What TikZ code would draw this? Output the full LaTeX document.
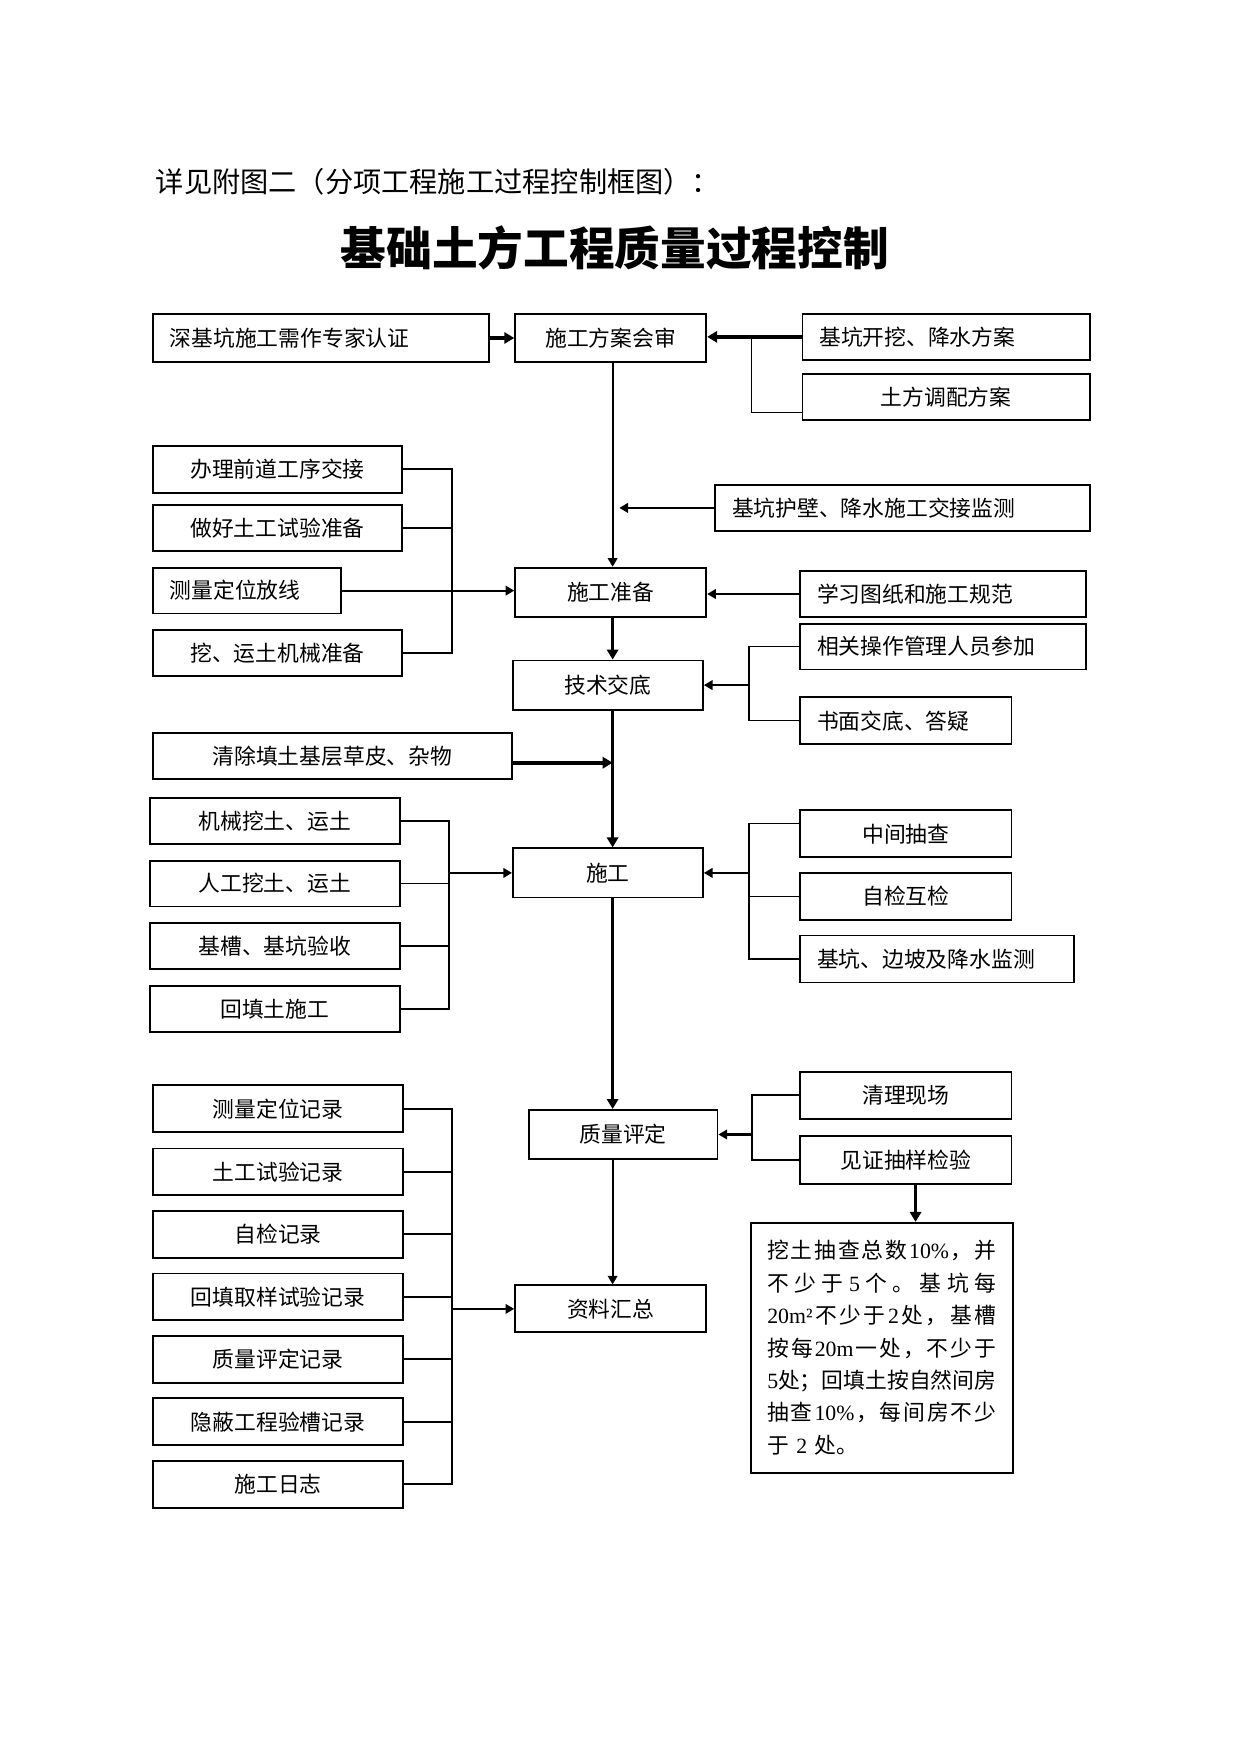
\documentclass[tikz,border=0pt]{standalone}
\usepackage{fontspec}
\setmainfont{Noto Sans CJK SC}
\newfontfamily\latinfont{Liberation Serif}
\usetikzlibrary{arrows.meta}

\newcommand{\boxfont}{\fontsize{10.5pt}{12.6pt}\selectfont}
\newcommand{\latnum}[1]{{\latinfont #1}}
\newcommand{\noteline}[1]{\makebox[\hsize][s]{\spaceskip=0pt plus 1fil\relax #1}}

\begin{document}
\begin{tikzpicture}
[x=0.018929cm, y=-0.018929cm,
  boxDecorate/.style={draw, line width=0.9pt, inner sep=0pt, anchor=north west, font=\boxfont},
  leftDecorate/.style={boxDecorate, align=left, inner xsep=8.08pt},
  lineDecorate/.style={-, line width=0.9pt},
  thinDecorate/.style={-, line width=0.6pt},
  arrowDecorate/.style={-{Triangle[length=4.2pt,width=4.6pt]}, line width=1pt},
  thickDecorate/.style={-{Triangle[length=4.8pt,width=5.4pt]}, line width=1.8pt}]
%% page frame
\useasboundingbox (0,0) rectangle (1110.1,1569);
%% headings
\node (caption) [anchor=west, inner sep=0pt, font=\fontsize{13.6pt}{16pt}\selectfont]
  at (139,163) {详见附图二（分项工程施工过程控制框图）：};
\node (title) [inner sep=0pt, font=\fontsize{22pt}{26pt}\selectfont\bfseries]
  at (550,222) {基础土方工程质量过程控制};
%% boxes, text centred
\foreach \nodename/\xa/\ya/\xb/\yb/\txt in {
  M1/460/280/631/323/施工方案会审, M2/460/507/631/551/施工准备,
  M3/458/590/628/634/技术交底, M4/458/758/628/802/施工,
  M5/472/992/641/1036/质量评定, M6/460/1149/631/1191/资料汇总,
  R2/717/334/974/375/土方调配方案,
  L1/136/398/359/440/办理前道工序交接, L2/136/451/359/492/做好土工试验准备,
  L4/136/563/359/604/挖、运土机械准备, L5/136/655/457/696/清除填土基层草皮、杂物,
  L6/133/713/357/754/机械挖土、运土, L7/133/769/357/810/人工挖土、运土,
  L8/133/825/357/866/基槽、基坑验收, L9/133/881/357/922/回填土施工,
  R7/715/724/904/766/中间抽查, R8/715/780/904/822/自检互检,
  R10/715/958/904/1000/清理现场, R11/715/1015/904/1058/见证抽样检验,
  L10/136/970/360/1012/测量定位记录, L11/136/1026.5/360/1068.5/土工试验记录,
  L12/136/1082.3/360/1124.3/自检记录, L13/136/1138.3/360/1180.3/回填取样试验记录,
  L14/136/1194.1/360/1236.1/质量评定记录, L15/136/1249.9/360/1291.9/隐蔽工程验槽记录,
  L16/136/1305.9/360/1347.9/施工日志}
{
  \pgfmathsetlengthmacro{\boxw}{(\xb-\xa)*0.53858pt}
  \pgfmathsetlengthmacro{\boxh}{(\yb-\ya)*0.53858pt}
  \node (\nodename) at (\xa,\ya) [boxDecorate, minimum width=\boxw, minimum height=\boxh] {\txt};
}
%% boxes, text on the left
\foreach \nodename/\xa/\ya/\xb/\yb/\txt in {
  A1/136/280/437/323/深基坑施工需作专家认证, R1/717/280/974/321/基坑开挖、降水方案,
  R3/639/433/974/474/基坑护壁、降水施工交接监测, L3/136/507/304/548/测量定位放线,
  R4/715/510/971/551/学习图纸和施工规范, R5/715/557/971/598/相关操作管理人员参加,
  R6/715/623/904/665/书面交底、答疑, R9/715/836/960/878/基坑、边坡及降水监测}
{
  \pgfmathsetlengthmacro{\textw}{(\xb-\xa-30)*0.53858pt}
  \pgfmathsetlengthmacro{\boxh}{(\yb-\ya)*0.53858pt}
  \node (\nodename) at (\xa,\ya) [leftDecorate, text width=\textw, minimum height=\boxh] {\txt};
}
%% note box
\node (N1) at (670.8,1093) [boxDecorate, align=left, text width=110.4pt, inner xsep=7.92pt,
  minimum height=120.4pt, font=\fontsize{10.5pt}{15.62pt}\selectfont] {%
  \noteline{挖 土 抽 查 总 数 \latnum{10\%} ， 并}\\
  \noteline{不 少 于 \latnum{5} 个 。 基 坑 每}\\
  \noteline{\latnum{20m²} 不 少 于 \latnum{2} 处 ， 基 槽}\\
  \noteline{按 每 \latnum{20m} 一 处 ， 不 少 于}\\
  \noteline{\latnum{5} 处 ； 回 填 土 按 自 然 间 房}\\
  \noteline{抽 查 \latnum{10\%} ， 每 间 房 不 少}\\
  于 \latnum{2} 处。};
%% trunk and bracket columns
\coordinate (trunk) at (548,0);
\coordinate (hubiEnd) at (554,0);
\coordinate (sampleX) at (819,0);
\coordinate (brkA) at (672,0);
\coordinate (brkB) at (404,0);
\coordinate (brkC) at (670,0);
\coordinate (brkD) at (402,0);
\coordinate (brkE) at (670,0);
\coordinate (brkF) at (673,0);
\coordinate (brkG) at (404.6,0);
%% main line
\draw[arrowDecorate] (M1.south -| trunk) -- (M2.north -| trunk);
\draw[thickDecorate] (M2.south -| trunk) -- (M3.north -| trunk);
\draw[thickDecorate] (M3.south -| trunk) -- (M4.north -| trunk);
\draw[thickDecorate] (M4.south -| trunk) -- (M5.north -| trunk);
\draw[arrowDecorate] (M5.south -| trunk) -- (M6.north -| trunk);
%% single feeds
\draw[thickDecorate] (A1) -- (M1);
\draw[thickDecorate] (R1.west) -- (R1.west -| M1.east);
\draw[arrowDecorate] (R3.west) -- (R3.west -| hubiEnd);
\draw[arrowDecorate] (L3.east) -- (L3.east -| M2.west);
\draw[arrowDecorate] (R4.west) -- (R4.west -| M2.east);
\draw[thickDecorate] ([yshift=-3.2pt]L5.east) -- ([yshift=-3.2pt]L5.east -| trunk);
\draw[thickDecorate] (R11.south -| sampleX) -- (N1.north -| sampleX);
%% brackets
\draw[thinDecorate] (R1.west -| brkA) |- ([yshift=-7.3pt]R2.west);
\draw[lineDecorate] (L1.east) -| (L4.east -| brkB) -- (L4.east);
\draw[thinDecorate] (R5.west) -| (R6.west -| brkC) -- (R6.west);
\draw[lineDecorate] (L6.east) -| (L9.east -| brkD) -- (L9.east);
\draw[thinDecorate] ([yshift=4.8pt]R7.west) -| (R9.west -| brkE) -- (R9.west);
\draw[lineDecorate] (R10.west) -| (R11.west -| brkF) -- (R11.west);
\draw[lineDecorate] (L10.east) -| (L16.east -| brkG) -- (L16.east);
\foreach \startnode/\brk in {L2/brkB, L7/brkD, L8/brkD, L11/brkG, L12/brkG, L13/brkG, L14/brkG, L15/brkG}
{
  \draw[lineDecorate] (\startnode.east) -- (\startnode.east -| \brk);
}
\draw[thinDecorate] (R8.west) -- (R8.west -| brkE);
\draw[arrowDecorate] (M3.east -| brkC) -- (M3.east);
\draw[arrowDecorate] (M4.west -| brkD) -- (M4.west);
\draw[arrowDecorate] (M4.east -| brkE) -- (M4.east);
\draw[arrowDecorate] (M5.east -| brkF) -- (M5.east);
\draw[arrowDecorate] (M6.west -| brkG) -- (M6.west);
\end{tikzpicture}
\end{document}
